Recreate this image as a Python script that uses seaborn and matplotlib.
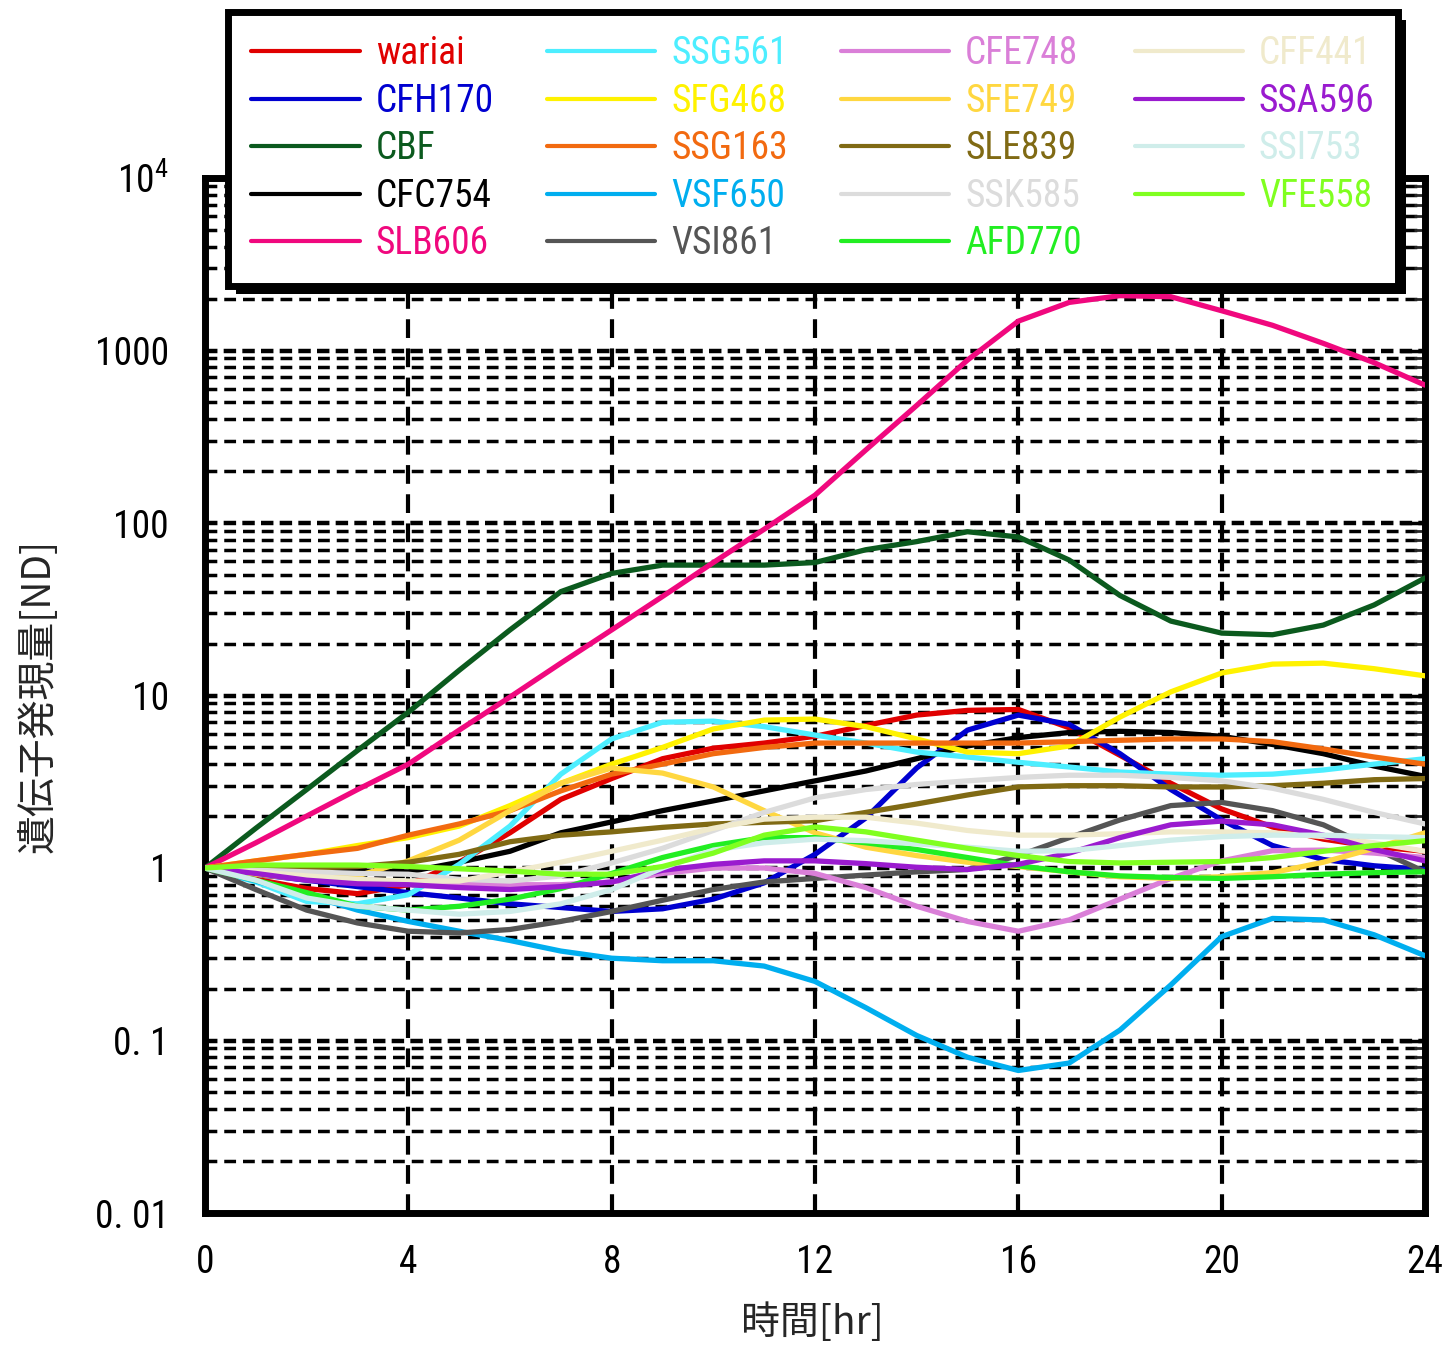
import numpy as np
import pandas as pd
import matplotlib
matplotlib.use("Agg")
import matplotlib.pyplot as plt
import seaborn as sns
from matplotlib import font_manager, patheffects
from matplotlib.ticker import FixedLocator, FixedFormatter, LogLocator, NullFormatter

# ---------------- data (hourly) ----------------
hours = list(range(25))

wariai = [1, 0.86, 0.76, 0.71, 0.8, 1.08, 1.6, 2.5, 3.3, 4.3, 4.95, 5.3, 5.8, 6.7, 7.7, 8.2, 8.3, 6.5, 4.5, 3.1, 2.2, 1.73, 1.47, 1.33, 1.25]
CFH170 = [1, 0.92, 0.85, 0.78, 0.72, 0.67, 0.62, 0.59, 0.56, 0.58, 0.66, 0.82, 1.2, 1.95, 3.8, 6.3, 7.7, 6.8, 4.6, 2.85, 1.9, 1.35, 1.12, 1.03, 0.98]
CBF = [1, 1.7, 2.85, 4.8, 8.0, 14, 24, 40, 51, 57, 57, 57, 59, 70, 78, 89, 83, 61, 38, 27, 23, 22.5, 25.6, 33.5, 48]
CFC754 = [1, 0.99, 0.98, 0.96, 0.95, 1.08, 1.25, 1.6, 1.85, 2.15, 2.45, 2.8, 3.2, 3.65, 4.3, 5.1, 5.7, 6.1, 6.2, 6.1, 5.8, 5.2, 4.6, 3.9, 3.4]
SLB606 = [1, 1.4, 2.0, 2.85, 4.0, 6.3, 9.8, 15.4, 24, 37.5, 59, 92, 145, 265, 480, 880, 1480, 1900, 2080, 2050, 1700, 1400, 1100, 850, 630]
SSG561 = [1, 0.83, 0.64, 0.62, 0.7, 1.05, 1.75, 3.5, 5.6, 7.0, 7.1, 6.6, 5.9, 5.3, 4.7, 4.4, 4.1, 3.85, 3.6, 3.5, 3.45, 3.5, 3.7, 4.0, 4.3]
SFG468 = [1, 1.1, 1.2, 1.35, 1.5, 1.75, 2.3, 3.1, 4.0, 5.0, 6.4, 7.2, 7.3, 6.6, 5.6, 4.7, 4.6, 5.1, 7.5, 10.5, 13.5, 15.2, 15.4, 14.3, 13.0]
SSG163 = [1, 1.1, 1.2, 1.3, 1.55, 1.8, 2.15, 2.8, 3.5, 4.0, 4.6, 5.0, 5.3, 5.3, 5.3, 5.3, 5.3, 5.4, 5.5, 5.6, 5.6, 5.4, 4.9, 4.4, 4.0]
VSF650 = [1, 0.84, 0.7, 0.57, 0.49, 0.43, 0.38, 0.33, 0.3, 0.29, 0.29, 0.27, 0.22, 0.155, 0.107, 0.08, 0.067, 0.074, 0.115, 0.21, 0.4, 0.51, 0.5, 0.41, 0.31]
VSI861 = [1, 0.75, 0.57, 0.48, 0.43, 0.42, 0.44, 0.49, 0.56, 0.65, 0.75, 0.83, 0.87, 0.91, 0.95, 0.98, 1.18, 1.5, 1.9, 2.3, 2.4, 2.15, 1.78, 1.3, 0.95]
CFE748 = [1, 0.95, 0.9, 0.86, 0.83, 0.81, 0.8, 0.8, 0.83, 0.93, 1.0, 1.0, 0.93, 0.77, 0.6, 0.49, 0.43, 0.5, 0.66, 0.87, 1.1, 1.26, 1.27, 1.22, 1.15]
SFE749 = [1, 0.92, 0.86, 0.9, 1.1, 1.45, 2.15, 3.1, 3.8, 3.55, 2.95, 2.15, 1.6, 1.32, 1.18, 1.08, 1.02, 0.95, 0.89, 0.87, 0.89, 0.94, 1.08, 1.3, 1.6]
SLE839 = [1, 1.0, 1.0, 1.02, 1.08, 1.2, 1.42, 1.55, 1.62, 1.72, 1.8, 1.84, 1.88, 2.1, 2.35, 2.65, 2.95, 3.0, 3.0, 2.95, 2.95, 3.0, 3.1, 3.25, 3.3]
SSK585 = [1, 0.97, 0.95, 0.93, 0.92, 0.86, 0.84, 0.9, 1.07, 1.3, 1.65, 2.1, 2.55, 2.85, 3.05, 3.2, 3.35, 3.45, 3.45, 3.35, 3.2, 2.9, 2.5, 2.1, 1.8]
AFD770 = [1, 0.85, 0.72, 0.6, 0.57, 0.6, 0.66, 0.76, 0.93, 1.15, 1.35, 1.5, 1.5, 1.4, 1.28, 1.15, 1.03, 0.95, 0.9, 0.88, 0.87, 0.89, 0.92, 0.94, 0.95]
CFF441 = [1, 0.95, 0.9, 0.86, 0.84, 0.84, 0.95, 1.08, 1.25, 1.45, 1.7, 1.92, 1.97, 1.97, 1.82, 1.65, 1.55, 1.55, 1.58, 1.62, 1.62, 1.6, 1.52, 1.4, 1.25]
SSA596 = [1, 0.93, 0.85, 0.81, 0.8, 0.77, 0.75, 0.78, 0.83, 0.97, 1.05, 1.1, 1.1, 1.06, 1.01, 0.98, 1.05, 1.22, 1.5, 1.78, 1.87, 1.78, 1.55, 1.28, 1.1]
SSI753 = [1, 0.85, 0.67, 0.6, 0.57, 0.54, 0.56, 0.62, 0.75, 1.0, 1.27, 1.4, 1.47, 1.44, 1.38, 1.32, 1.25, 1.26, 1.35, 1.45, 1.52, 1.55, 1.55, 1.52, 1.5]
VFE558 = [1, 1.04, 1.04, 1.04, 1.02, 0.99, 0.96, 0.92, 0.92, 1.02, 1.22, 1.55, 1.73, 1.62, 1.45, 1.3, 1.18, 1.09, 1.07, 1.08, 1.09, 1.15, 1.25, 1.35, 1.44]

series_names = ["wariai", "CFH170", "CBF", "CFC754", "SLB606",
                "SSG561", "SFG468", "SSG163", "VSF650", "VSI861",
                "CFE748", "SFE749", "SLE839", "SSK585", "AFD770",
                "CFF441", "SSA596", "SSI753", "VFE558"]
series_values = [wariai, CFH170, CBF, CFC754, SLB606,
                 SSG561, SFG468, SSG163, VSF650, VSI861,
                 CFE748, SFE749, SLE839, SSK585, AFD770,
                 CFF441, SSA596, SSI753, VFE558]
series_colors = ["#E00000", "#0000D0", "#0B5A1E", "#000000", "#F0087E",
                 "#4DEEFF", "#FFF200", "#F26A10", "#00AEEF", "#555555",
                 "#DA7FD8", "#FFD740", "#806A14", "#DCDCDC", "#22EE22",
                 "#F0EACC", "#9A1BCF", "#CFEDEA", "#80FF20"]

ytick_vals = [0.01, 0.1, 1, 10, 100, 1000, 10000]
ytick_labels = ["0. 01", "0. 1", "1", "10", "100", "1000", "10$^4$"]
xtick_vals = [0, 4, 8, 12, 16, 20, 24]
xlabel_text = "時間[hr]"
ylabel_text = "遺伝子発現量[ND]"

# ---------------- styling ----------------
sns.set_style("white")
avail = {f.name for f in font_manager.fontManager.ttflist}
latin = "DejaVu Sans"
for cand in ["Liberation Sans Narrow", "Roboto Condensed", "Liberation Sans"]:
    if cand in avail:
        latin = cand
        break
plt.rcParams["font.family"] = [latin, "Noto Sans CJK JP", "DejaVu Sans"]
plt.rcParams["mathtext.fontset"] = "custom"
plt.rcParams["mathtext.rm"] = latin
plt.rcParams["mathtext.it"] = latin
plt.rcParams["axes.unicode_minus"] = False

W, H = 1449, 1345
fig = plt.figure(figsize=(W / 100, H / 100), dpi=100)
ax = fig.add_axes([205 / W, 1 - 1213 / H, (1425 - 205) / W, (1213 - 178) / H])

df = pd.DataFrame({
    "hour": np.tile(hours, len(series_names)),
    "value": np.concatenate([np.asarray(v, float) for v in series_values]),
    "gene": np.repeat(series_names, len(hours)),
})

sns.lineplot(data=df, x="hour", y="value", hue="gene", hue_order=series_names,
             palette=dict(zip(series_names, series_colors)), linewidth=3.8,
             ax=ax, legend=True, zorder=3)

ax.set_yscale("log")
ax.set_ylim(0.01, 10000)
ax.set_xlim(0, 24)

ax.yaxis.set_major_locator(FixedLocator(ytick_vals))
ax.yaxis.set_major_formatter(FixedFormatter(ytick_labels))
ax.yaxis.set_minor_locator(LogLocator(base=10, subs=np.arange(2, 10)))
ax.yaxis.set_minor_formatter(NullFormatter())
ax.set_xticks(xtick_vals)
ax.set_xticklabels([str(v) for v in xtick_vals])

# grid
ax.set_axisbelow(True)
ax.grid(False)
ax.grid(which="major", axis="x", color="black", linewidth=3.0, linestyle=(0, (4.5, 2.5)))
ax.grid(which="major", axis="y", color="black", linewidth=3.2, linestyle=(0, (2.8, 1.4)))
ax.grid(which="minor", axis="y", color="black", linewidth=2.5, linestyle=(0, (3.4, 2.0)))

for sp in ax.spines.values():
    sp.set_visible(True)
    sp.set_linewidth(5)
    sp.set_color("black")

ax.tick_params(which="major", direction="in", length=18, width=2.5, top=True, right=True,
               labelsize=27, colors="black")
ax.tick_params(axis="y", which="major", pad=26)
ax.tick_params(axis="x", which="major", pad=22)
ax.tick_params(which="minor", direction="in", length=8, width=2, right=True)

cjk = ["Noto Sans CJK JP", "DejaVu Sans"]
ax.set_xlabel(xlabel_text, fontsize=28, family=cjk)
ax.set_ylabel(ylabel_text, fontsize=28, family=cjk)
ax.xaxis.set_label_coords(0.4975, -0.087)
ax.yaxis.set_label_coords(-0.12, 0.5)

# legend
handles, labels = ax.get_legend_handles_labels()
leg = ax.legend(handles, labels, ncol=4, loc="upper left",
                bbox_to_anchor=(228 / W, 1 - 280 / H, (1398 - 228) / W, 268 / H),
                bbox_transform=fig.transFigure, mode="expand",
                fontsize=27, handlelength=2.9, handletextpad=0.42,
                columnspacing=0.8, labelspacing=0.28, borderpad=0.62,
                frameon=True, fancybox=False, framealpha=1.0,
                labelcolor="linecolor", borderaxespad=0)
frame = leg.get_frame()
frame.set_edgecolor("black")
frame.set_linewidth(5)
frame.set_facecolor("white")
frame.set_path_effects([
    patheffects.SimplePatchShadow(offset=(6, -6), shadow_rgbFace="black", alpha=1.0),
    patheffects.Normal(),
])
for line in leg.get_lines():
    line.set_linewidth(3.0)
leg.set_zorder(10)

fig.savefig("out.png", dpi=100)
